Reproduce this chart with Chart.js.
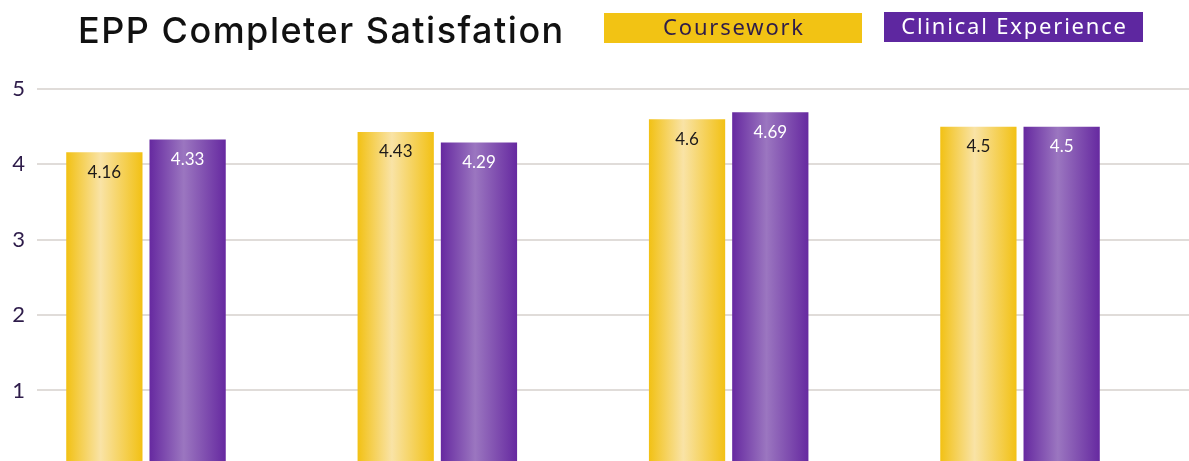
<!DOCTYPE html>
<html>
<head>
<meta charset="utf-8">
<script src="https://cdn.jsdelivr.net/npm/chart.js@4.4.0/dist/chart.umd.min.js"></script>
<style>
  html, body { margin: 0; padding: 0; background: #fff; overflow: hidden; }
  #wrap { position: relative; width: 1189px; height: 461px; overflow: hidden; }
  #box { position: absolute; left: 0; top: 0; width: 1189px; height: 491px; }
</style>
</head>
<body>
<div id="wrap"><div id="box"><canvas id="chart_satisfaction"></canvas></div></div>
<script>
// chart data
const chartTitle = "EPP Completer Satisfation";
const categories = [0, 1, 2, 3];
const coursework = [4.16, 4.43, 4.6, 4.5];
const clinical = [4.33, 4.29, 4.69, 4.5];
const yTicks = [1, 2, 3, 4, 5];

const seriesNames = ["Coursework", "Clinical Experience"];
const seriesColors = ["#f2c314", "#5e27a0"];
const legendTextColors = ["#2e1c4a", "#ffffff"];
const valueTextColors = ["#1d1a1a", "#ffffff"];

// edge / centre colours of the bar gradients
const gradStops = [
  ["#f2c114", "#f9e3a6"],
  ["#6629a0", "#9b76c0"]
];

const CAT_PCT = 0.599;
const BAR_PCT = 0.916;

// solid fallback; kept scriptable so each bar gets its own options object
const barColor = (context) => seriesColors[context.datasetIndex];

// swap the solid fill for a left-right gradient sized to each bar
const gradientPlugin = {
  id: 'barGradient',
  beforeDatasetsDraw(chart) {
    const ctx = chart.ctx;
    chart.data.datasets.forEach((ds, i) => {
      const c = gradStops[i];
      chart.getDatasetMeta(i).data.forEach((bar) => {
        const left = bar.x - bar.width / 2;
        if (!isFinite(left) || !isFinite(bar.width)) return;
        const g = ctx.createLinearGradient(left, 0, left + bar.width, 0);
        g.addColorStop(0, c[0]);
        g.addColorStop(0.45, c[1]);
        g.addColorStop(1, c[0]);
        bar.options.backgroundColor = g;
      });
    });
  }
};

// title + boxed legend on top
const headerPlugin = {
  id: 'header',
  afterDraw(chart) {
    const ctx = chart.ctx;
    ctx.save();
    ctx.fillStyle = "#111111";
    ctx.font = "500 36px Inter";
    ctx.letterSpacing = "1.5px";
    ctx.textAlign = "left";
    ctx.textBaseline = "alphabetic";
    ctx.fillText(chartTitle, 78, 43);

    const boxes = [
      { x: 604, y: 13, w: 258, h: 30 },
      { x: 884, y: 12, w: 259, h: 30 }
    ];
    ctx.letterSpacing = "1.8px";
    chart.data.datasets.forEach((ds, i) => {
      const b = boxes[i];
      ctx.fillStyle = seriesColors[i];
      ctx.fillRect(b.x, b.y, b.w, b.h);
      ctx.fillStyle = legendTextColors[i];
      ctx.font = "400 22px 'Noto Sans'";
      ctx.textAlign = "center";
      ctx.textBaseline = "middle";
      ctx.fillText(ds.label, b.x + b.w / 2 + 1, b.y + b.h / 2 + 1);
    });
    ctx.restore();
  }
};

// value labels inside the top of each bar
const valuePlugin = {
  id: 'values',
  afterDatasetsDraw(chart) {
    const ctx = chart.ctx;
    ctx.save();
    ctx.font = "400 17px Lato";
    ctx.textAlign = "center";
    ctx.textBaseline = "middle";
    chart.data.datasets.forEach((ds, i) => {
      const meta = chart.getDatasetMeta(i);
      meta.data.forEach((bar, j) => {
        ctx.fillStyle = valueTextColors[i];
        ctx.fillText(String(ds.data[j].y), bar.x, bar.y + 20);
      });
    });
    ctx.restore();
  }
};

new Chart(
  document.getElementById('chart_satisfaction'),
  {
    type: 'bar',
    data: {
      datasets: [
        {
          label: seriesNames[0],
          data: coursework.map((v, i) => ({ x: categories[i], y: v })),
          backgroundColor: barColor,
          borderWidth: 0
        },
        {
          label: seriesNames[1],
          data: clinical.map((v, i) => ({ x: categories[i], y: v })),
          backgroundColor: barColor,
          borderWidth: 0
        }
      ]
    },
    options: {
      responsive: true,
      maintainAspectRatio: false,
      animation: false,
      categoryPercentage: CAT_PCT,
      barPercentage: BAR_PCT,
      layout: {
        padding: { top: 89, left: 0, right: 0, bottom: 0 }
      },
      scales: {
        x: {
          type: 'linear',
          display: false,
          offset: false,
          bounds: 'data',
          min: -0.3741,
          max: 3.58,
          ticks: { stepSize: 1, includeBounds: false }
        },
        y: {
          min: 0,
          max: 5,
          border: { display: false },
          grid: {
            color: '#e0dcd9',
            lineWidth: 2,
            drawTicks: false
          },
          ticks: {
            stepSize: 1,
            padding: 12,
            color: '#2e1c4a',
            font: { family: 'Lato', size: 22 },
            callback: (v) => (yTicks.includes(v) ? String(v) : '')
          },
          afterFit: (scale) => { scale.width = 37; }
        }
      },
      plugins: {
        legend: { display: false },
        title: { display: false },
        tooltip: { enabled: true }
      }
    },
    plugins: [gradientPlugin, headerPlugin, valuePlugin]
  }
);
</script>
</body>
</html>
